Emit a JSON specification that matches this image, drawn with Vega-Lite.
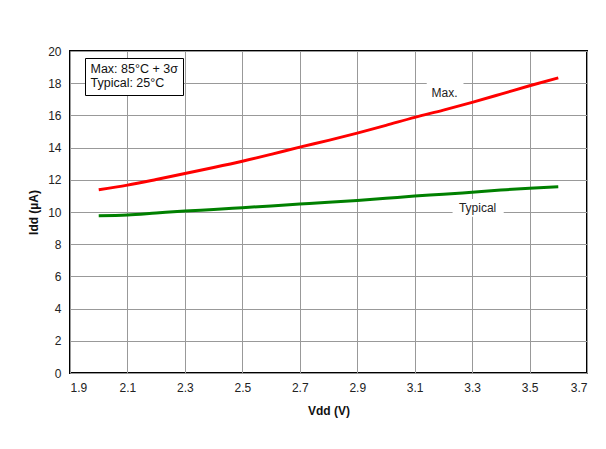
{
  "$schema": "https://vega.github.io/schema/vega-lite/v6.json",
  "autosize": {"type": "none"},
  "padding": {"left": 70, "top": 51, "right": 19, "bottom": 76},
  "width": 517,
  "height": 322,
  "background": "white",
  "config": {
    "font": "Liberation Sans",
    "view": {"stroke": "#000", "strokeWidth": 2},
    "legend": {
      "strokeColor": "#000",
      "strokeWidth": 1,
      "fillColor": "white",
      "padding": 5,
      "labelFont": "Liberation Sans",
      "labelFontSize": 12.5,
      "labelColor": "#111",
      "symbolSize": 0,
      "symbolStrokeWidth": 0,
      "symbolOpacity": 0,
      "labelOffset": -12,
      "rowPadding": 1
    }
  },
  "datasets": {
    "curves": [
      {"vdd": 2.0, "series": "Max.", "idd": 11.38},
      {"vdd": 2.1, "series": "Max.", "idd": 11.67},
      {"vdd": 2.2, "series": "Max.", "idd": 12.02},
      {"vdd": 2.3, "series": "Max.", "idd": 12.39},
      {"vdd": 2.4, "series": "Max.", "idd": 12.76},
      {"vdd": 2.5, "series": "Max.", "idd": 13.15},
      {"vdd": 2.6, "series": "Max.", "idd": 13.58},
      {"vdd": 2.7, "series": "Max.", "idd": 14.03},
      {"vdd": 2.8, "series": "Max.", "idd": 14.45},
      {"vdd": 2.9, "series": "Max.", "idd": 14.9},
      {"vdd": 3.0, "series": "Max.", "idd": 15.38},
      {"vdd": 3.1, "series": "Max.", "idd": 15.88},
      {"vdd": 3.2, "series": "Max.", "idd": 16.33},
      {"vdd": 3.3, "series": "Max.", "idd": 16.81},
      {"vdd": 3.4, "series": "Max.", "idd": 17.32},
      {"vdd": 3.5, "series": "Max.", "idd": 17.84},
      {"vdd": 3.6, "series": "Max.", "idd": 18.33},
      {"vdd": 2.0, "series": "Typical", "idd": 9.77},
      {"vdd": 2.1, "series": "Typical", "idd": 9.82},
      {"vdd": 2.2, "series": "Typical", "idd": 9.94},
      {"vdd": 2.3, "series": "Typical", "idd": 10.06},
      {"vdd": 2.4, "series": "Typical", "idd": 10.16},
      {"vdd": 2.5, "series": "Typical", "idd": 10.27},
      {"vdd": 2.6, "series": "Typical", "idd": 10.38},
      {"vdd": 2.7, "series": "Typical", "idd": 10.49},
      {"vdd": 2.8, "series": "Typical", "idd": 10.6},
      {"vdd": 2.9, "series": "Typical", "idd": 10.72},
      {"vdd": 3.0, "series": "Typical", "idd": 10.85},
      {"vdd": 3.1, "series": "Typical", "idd": 10.99},
      {"vdd": 3.2, "series": "Typical", "idd": 11.1},
      {"vdd": 3.3, "series": "Typical", "idd": 11.23},
      {"vdd": 3.4, "series": "Typical", "idd": 11.36},
      {"vdd": 3.5, "series": "Typical", "idd": 11.48},
      {"vdd": 3.6, "series": "Typical", "idd": 11.57}
    ],
    "labels": [
      {"label": "Max.", "x": 3.204, "y": 17.41, "x1": 3.142, "x2": 3.27, "y1": 17.1, "y2": 18.3},
      {"label": "Typical", "x": 3.319, "y": 10.25, "x1": 3.232, "x2": 3.41, "y1": 9.7, "y2": 10.8}
    ]
  },
  "encoding": {
    "x": {
      "type": "quantitative",
      "scale": {"domain": [1.9, 3.7], "nice": false, "zero": false},
      "axis": {
        "title": "Vdd (V)",
        "grid": true,
        "gridColor": "#999",
        "gridWidth": 1,
        "gridOpacity": 1,
        "domain": false,
        "ticks": false,
        "labelOverlap": false,
        "values": [1.9, 2.1, 2.3, 2.5, 2.7, 2.9, 3.1, 3.3, 3.5, 3.7],
        "format": ".1f",
        "labelFont": "Liberation Sans",
        "labelFontSize": 12,
        "labelColor": "#222",
        "labelPadding": 9,
        "titleFont": "Liberation Sans",
        "titleFontSize": 12,
        "titleFontWeight": "bold",
        "titleColor": "#111",
        "titlePadding": 12
      }
    },
    "y": {
      "type": "quantitative",
      "scale": {"domain": [0, 20], "nice": false},
      "axis": {
        "title": "Idd (µA)",
        "grid": true,
        "gridColor": "#999",
        "gridWidth": 1,
        "gridOpacity": 1,
        "domain": false,
        "ticks": false,
        "labelOverlap": false,
        "values": [0, 2, 4, 6, 8, 10, 12, 14, 16, 18, 20],
        "labelFont": "Liberation Sans",
        "labelFontSize": 12,
        "labelColor": "#222",
        "labelPadding": 9,
        "titleFont": "Liberation Sans",
        "titleFontSize": 12,
        "titleFontWeight": "bold",
        "titleColor": "#111",
        "titlePadding": 7
      }
    }
  },
  "layer": [
    {
      "data": {"name": "labels"},
      "mark": {"type": "rect", "fill": "white"},
      "encoding": {
        "x": {"field": "x1"},
        "x2": {"field": "x2"},
        "y": {"field": "y1"},
        "y2": {"field": "y2"}
      }
    },
    {
      "data": {"name": "curves"},
      "mark": {"type": "line", "strokeWidth": 3, "interpolate": "monotone"},
      "encoding": {
        "x": {"field": "vdd"},
        "y": {"field": "idd"},
        "color": {
          "field": "series", "type": "nominal",
          "scale": {"domain": ["Max.", "Typical"], "range": ["#ff0000", "#008000"]},
          "legend": {
            "title": null,
            "orient": "none",
            "legendX": 15,
            "legendY": 7,
            "labelExpr": "datum.value == 'Max.' ? 'Max: 85°C + 3σ' : 'Typical: 25°C'"
          }
        }
      }
    },
    {
      "data": {"name": "labels"},
      "mark": {"type": "text", "font": "Liberation Sans", "fontSize": 12, "color": "#222", "align": "center", "baseline": "middle"},
      "encoding": {
        "x": {"field": "x"},
        "y": {"field": "y"},
        "text": {"field": "label"}
      }
    }
  ]
}
